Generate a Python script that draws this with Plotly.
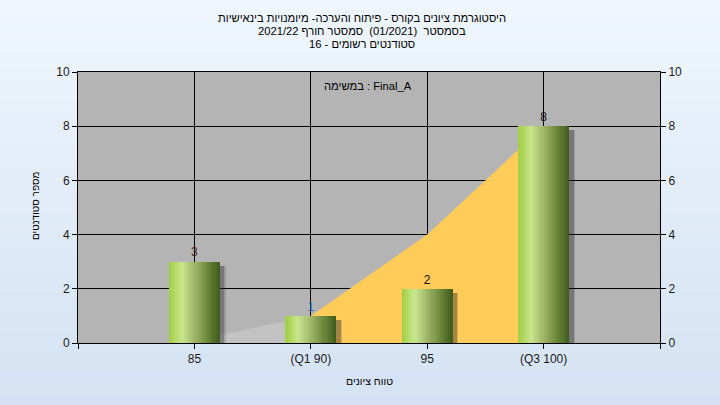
import plotly.graph_objects as go

# ---- data ----
categories = ["85", "(Q1 90)", "95", "(Q3 100)"]
counts = [3, 1, 2, 8]
curve_values = [0.1, 1, 4, 8]
label_colors = ["#4a1c1c", "#3a6f9a", "#111111", "#111111"]
title_lines = [
    "היסטוגרמת ציונים בקורס - פיתוח והערכה- מיומנויות בינאישיות",
    "בסמסטר  (01/2021)  סמסטר חורף 2021/22",
    "סטודנטים רשומים - 16",
]
task_label = "במשימה : Final_A"
y_title = "מספר סטודנטים"
x_title = "טווח ציונים"

xs = list(range(len(categories)))
FONT = "Liberation Sans, Arial, sans-serif"

fig = go.Figure()

# area curve (on main axis, below bars): light-gray part then yellow part
fig.add_trace(go.Scatter(x=xs[:2], y=curve_values[:2], fill="tozeroy", mode="none",
                         fillcolor="#c2c2c2", hoverinfo="skip", showlegend=False))
fig.add_trace(go.Scatter(x=xs[1:], y=curve_values[1:], fill="tozeroy", mode="none",
                         fillcolor="#ffcc5a", hoverinfo="skip", showlegend=False))

# bars on overlaying axis so they sit above the area
bw = 0.435
for dx, alpha in [(0.05, 0.18), (0.04, 0.3)]:
    fig.add_trace(go.Bar(x=xs, y=counts, base=-0.15, width=bw, offset=-bw / 2 + dx,
                         yaxis="y2",
                         marker=dict(color=f"rgba(40,40,40,{alpha})", line=dict(width=0)),
                         hoverinfo="skip", showlegend=False))


def lerp(c1, c2, t):
    return tuple(round(a + (b - a) * t) for a, b in zip(c1, c2))


stops = [(0.0, (160, 206, 66)), (0.25, (202, 230, 142)), (0.55, (150, 172, 96)),
         (0.8, (100, 128, 52)), (1.0, (62, 90, 28))]
N = 24
for i in range(N):
    t = (i + 0.5) / N
    for j in range(len(stops) - 1):
        if stops[j][0] <= t <= stops[j + 1][0]:
            tt = (t - stops[j][0]) / (stops[j + 1][0] - stops[j][0])
            c = lerp(stops[j][1], stops[j + 1][1], tt)
            break
    w = bw / N
    fig.add_trace(go.Bar(x=xs, y=counts, width=w * 1.15, offset=-bw / 2 + i * w,
                         yaxis="y2",
                         marker=dict(color="rgb(%d,%d,%d)" % c, line=dict(width=0)),
                         hoverinfo="skip", showlegend=False))

# value labels
fig.add_trace(go.Scatter(x=xs, y=counts, mode="markers+text", text=[str(v) for v in counts],
                         textposition="top center", yaxis="y2",
                         marker=dict(size=2, opacity=0),
                         textfont=dict(size=12, color=label_colors, family=FONT),
                         hoverinfo="skip", showlegend=False))

# background gradient bands (paper) and plot background
L, R, T, B = 78, 60, 72, 62
W, H = 720, 405
pw, ph = W - L - R, H - T - B
shapes = []
nb = 40
top_c, bot_c = (212, 226, 243), (239, 246, 253)
for k in range(nb):
    y0p = H - (k + 1) * H / nb
    y1p = H - k * H / nb
    c = lerp(bot_c, top_c, (k + 0.5) / nb)
    shapes.append(dict(type="rect", xref="paper", yref="paper", layer="below",
                       x0=-L / pw, x1=(pw + R) / pw,
                       y0=(y0p - B) / ph - 0.001, y1=(y1p - B) / ph + 0.001,
                       line=dict(width=0), fillcolor="rgb(%d,%d,%d)" % c))
shapes.append(dict(type="rect", xref="paper", yref="paper", layer="below",
                   x0=0, x1=1, y0=0, y1=1, line=dict(width=0), fillcolor="#b4b4b4"))

axis_common = dict(showline=True, linecolor="black", linewidth=1, ticks="outside",
                   ticklen=5, tickcolor="black",
                   tickfont=dict(size=12, color="#1a1a1a", family=FONT))

annotations = [
    dict(text=task_label, xref="paper", yref="paper", x=(368 - L) / pw, y=(H - 86 - B) / ph,
         xanchor="center", yanchor="middle", showarrow=False,
         font=dict(size=11.2, color="black", family=FONT)),
    dict(text=x_title, xref="paper", yref="paper", x=(369 - L) / pw, y=-(381 - 343) / ph,
         xanchor="center", yanchor="middle", showarrow=False,
         font=dict(size=10.5, color="black", family=FONT)),
    dict(text=y_title, xref="paper", yref="paper", x=(35 - L) / pw, y=(H - 206 - B) / ph,
         xanchor="center", yanchor="middle", textangle=-90, showarrow=False,
         font=dict(size=10, color="black", family=FONT)),
]
for k, line in enumerate(title_lines):
    ypix = 18 + 13 * k
    annotations.append(dict(text=line, xref="paper", yref="paper",
                            x=(362 - L) / pw, y=(H - ypix - B) / ph,
                            xanchor="center", yanchor="middle", showarrow=False,
                            font=dict(size=11.2, color="black", family=FONT)))

fig.update_layout(
    width=W, height=H,
    margin=dict(l=L, r=R, t=T, b=B),
    paper_bgcolor="#e2ecf8",
    plot_bgcolor="rgba(0,0,0,0)",
    barmode="overlay",
    bargap=0,
    shapes=shapes,
    font=dict(family=FONT, size=12, color="black"),
    xaxis=dict(range=[-1, len(categories)], tickvals=[-1] + xs + [len(categories)],
               ticktext=[""] + categories + [""], showgrid=True, gridcolor="black",
               gridwidth=1, zeroline=False, mirror=True, **axis_common),
    yaxis=dict(range=[0, 10], dtick=2, showgrid=True, gridcolor="black", gridwidth=1,
               zeroline=False, mirror=True, **axis_common),
    yaxis2=dict(range=[0, 10], dtick=2, overlaying="y", side="right", showgrid=False,
                zeroline=False, **axis_common),
    annotations=annotations,
)

fig.write_html("out.html", config={"displayModeBar": False},
               post_script="document.body.style.margin='0';")
